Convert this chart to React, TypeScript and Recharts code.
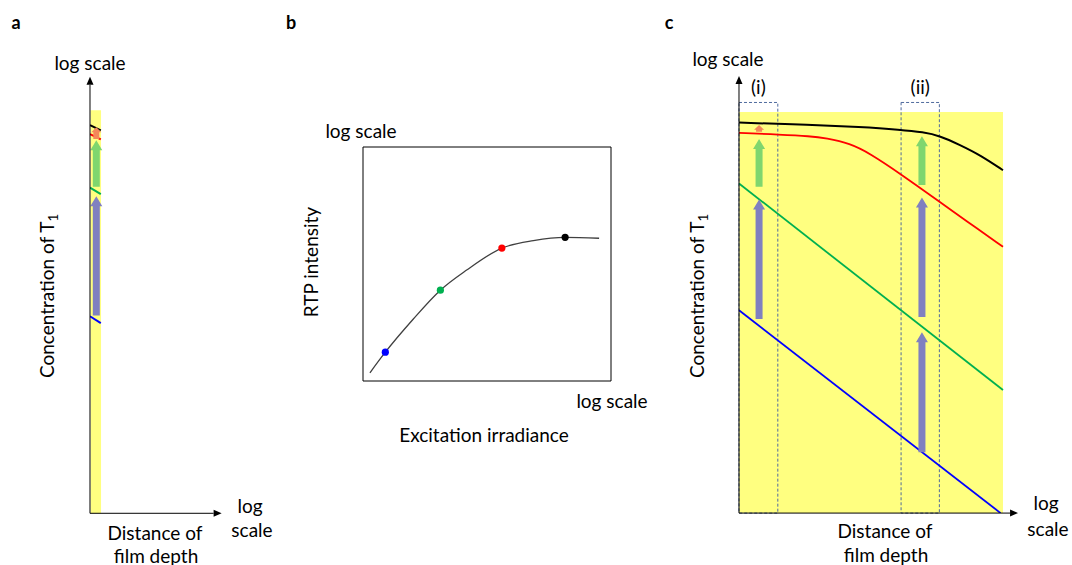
import React from 'react';
import { ComposedChart, Line, Scatter, Cell, XAxis, YAxis, ReferenceArea, ReferenceLine } from 'recharts';

// ---- panel a : the film surface only (log depth close to zero) ----
const depthA = [0, 9];
const blackA = [96.3, 95.0];
const redA = [94.1, 92.8];
const greenA = [80.8, 79.2];
const blueA = [48.9, 47.2];
const arrowKindA = ['b2g', 'g2r', 'r2k'];
const arrowXA = [5.25, 5.25, 5.25];
const arrowFromA = [49.1, 81.0, 92.9];
const arrowToA = [78.7, 92.6, 95.8];

// ---- panel b : RTP intensity vs excitation irradiance ----
const irradianceB = [2.8, 9.0, 20.3, 31.2, 41.8, 56.0, 68.7, 81.5, 95.2];
const intensityB = [3.5, 12.3, 26.5, 38.8, 47.4, 56.8, 60.0, 61.4, 61.0];
const dotIrradiance = [9.0, 31.2, 56.0, 81.5];
const dotIntensity = [12.3, 38.8, 56.8, 61.4];
const dotKind = ['blue', 'green', 'red', 'black'];

// ---- panel c : T1 concentration vs film depth ----
const depthBlackC = [0, 26.9, 45.8, 61.4, 69.7, 76.1, 83.7, 91.3, 100];
const blackC = [97.4, 96.8, 96.3, 95.6, 95.0, 94.1, 91.8, 89.3, 85.5];
const depthRedC = [0, 15.5, 26.9, 33.0, 42.0, 49.6, 61.4, 76.1, 86.0, 100];
const redC = [94.8, 94.4, 94.0, 93.5, 92.2, 89.7, 84.5, 77.6, 72.9, 66.4];
const depthGreenC = [0, 100];
const greenC = [82.2, 30.7];
const depthBlueC = [0, 99.1];
const blueC = [50.6, 0];
const arrowKindC = ['b2g', 'g2r', 'r2k', 'b2g', 'b2g', 'g2r'];
const arrowXC = [7.6, 7.6, 7.6, 69.3, 69.3, 69.3];
const arrowFromC = [48.4, 81.4, 95.1, 15.2, 48.9, 81.8];
const arrowToC = [78.2, 93.3, 96.8, 45.1, 78.7, 94.0];
const regionLabels = ['(i)', '(ii)'];
const regionStart = [0, 61.4];
const regionEnd = [14.7, 75.9];
const regionTop = 102.4;

const FONT = 'Lato, "Open Sans", sans-serif';
const LINE_COLORS: Record<string, string> = { black: '#000000', red: '#ff0000', green: '#00b050', blue: '#0000ff' };
const ARROW_COLORS: Record<string, string> = { b2g: '#8080c0', g2r: '#7fd66e', r2k: '#f4875a' };

const pts = (xs: number[], ys: number[]) => xs.map((x, i) => ({ x, y: ys[i] }));

const BlockArrow = ({ x1, y1, x2, y2, fill, shaft, head, headLen }: any) => {
  const dx = x2 - x1;
  const dy = y2 - y1;
  const len = Math.hypot(dx, dy) || 1;
  const ux = dx / len;
  const uy = dy / len;
  const nx = -uy;
  const ny = ux;
  const hl = Math.min(headLen, len * 0.7);
  const bx = x2 - ux * hl;
  const by = y2 - uy * hl;
  const p = [
    [x1 + (nx * shaft) / 2, y1 + (ny * shaft) / 2],
    [bx + (nx * shaft) / 2, by + (ny * shaft) / 2],
    [bx + (nx * head) / 2, by + (ny * head) / 2],
    [x2, y2],
    [bx - (nx * head) / 2, by - (ny * head) / 2],
    [bx - (nx * shaft) / 2, by - (ny * shaft) / 2],
    [x1 - (nx * shaft) / 2, y1 - (ny * shaft) / 2],
  ];
  return <polygon points={p.map((q) => q.join(',')).join(' ')} fill={fill} />;
};

const AxisArrow = ({ x1, y1, x2, y2 }: any) => {
  const dx = x2 - x1;
  const dy = y2 - y1;
  const len = Math.hypot(dx, dy) || 1;
  const ux = dx / len;
  const uy = dy / len;
  const hl = 8;
  const hw = 3.5;
  const bx = x2 - ux * hl;
  const by = y2 - uy * hl;
  return (
    <g>
      <line x1={x1} y1={y1} x2={bx} y2={by} stroke="#000" strokeWidth={1} />
      <polygon
        points={`${x2},${y2} ${bx - uy * hw},${by + ux * hw} ${bx + uy * hw},${by - ux * hw}`}
        fill="#000"
      />
    </g>
  );
};

const Txt = ({ x, y, children, size = 19, bold = false, rotate = false }: any) => (
  <div
    style={{
      position: 'absolute',
      left: x,
      top: y,
      transform: `translate(-50%, -50%)${rotate ? ' rotate(-90deg)' : ''}`,
      fontFamily: FONT,
      fontSize: size,
      fontWeight: bold ? 700 : 400,
      lineHeight: 1,
      whiteSpace: 'nowrap',
      color: '#000',
    }}
  >
    {children}
  </div>
);

const M = 10;
const Panel = ({ left, top, w, h, xMax, yMax, children }: any) => (
  <div style={{ position: 'absolute', left: left - M, top: top - M }}>
    <ComposedChart width={w + 2 * M} height={h + 2 * M} margin={{ top: M, right: M, bottom: M, left: M }}>
      <XAxis type="number" dataKey="x" domain={[0, xMax]} hide allowDataOverflow />
      <YAxis type="number" domain={[0, yMax]} hide allowDataOverflow />
      {children}
    </ComposedChart>
  </div>
);

const profile = (key: string, xs: number[], ys: number[], type: any = 'linear', width = 1.8) => (
  <Line
    key={key}
    data={pts(xs, ys)}
    dataKey="y"
    type={type}
    stroke={LINE_COLORS[key]}
    strokeWidth={width}
    dot={false}
    activeDot={false}
    isAnimationActive={false}
  />
);

const arrows = (prefix: string, kinds: string[], xs: number[], from: number[], to: number[]) =>
  kinds.map((k, i) => (
    <ReferenceLine
      key={`${prefix}${i}`}
      segment={[{ x: xs[i], y: from[i] }, { x: xs[i], y: to[i] }]}
      shape={(p: any) =>
        k === 'r2k' ? (
          <BlockArrow {...p} fill={ARROW_COLORS[k]} shaft={6} head={10} headLen={5} />
        ) : (
          <BlockArrow {...p} fill={ARROW_COLORS[k]} shaft={7} head={12} headLen={10} />
        )
      }
    />
  ));

const T1 = () => (
  <>
    Concentration of T<sub style={{ fontSize: '0.7em', verticalAlign: '-0.3em' }}>1</sub>
  </>
);

export default function App() {
  return (
    <div style={{ position: 'absolute', left: 0, top: 0, width: 1072, height: 565, background: '#fff', overflow: 'hidden' }}>
      {/* panel a */}
      <Panel left={90} top={69.7} w={134.4} h={443.3} xMax={112} yMax={110}>
        <ReferenceArea x1={0.5} x2={9.2} y1={0} y2={100} fill="#ffff80" fillOpacity={1} stroke="none" />
        {profile('black', depthA, blackA, 'linear', 2)}
        {profile('red', depthA, redA, 'linear', 2)}
        {profile('green', depthA, greenA, 'linear', 2)}
        {profile('blue', depthA, blueA, 'linear', 2)}
        {arrows('a', arrowKindA, arrowXA, arrowFromA, arrowToA)}
        <ReferenceLine segment={[{ x: 0, y: 0 }, { x: 0, y: 108.3 }]} shape={(p: any) => <AxisArrow {...p} />} />
        <ReferenceLine segment={[{ x: 0, y: 0 }, { x: 109.7, y: 0 }]} shape={(p: any) => <AxisArrow {...p} />} />
      </Panel>

      {/* panel b */}
      <Panel left={363} top={147} w={248} h={234} xMax={100} yMax={100}>
        <ReferenceArea x1={0} x2={100} y1={0} y2={100} fill="none" stroke="#000" strokeWidth={1} />
        <Line
          data={pts(irradianceB, intensityB)}
          dataKey="y"
          type="monotone"
          stroke="#404040"
          strokeWidth={1.3}
          dot={false}
          activeDot={false}
          isAnimationActive={false}
        />
        <Scatter
          data={pts(dotIrradiance, dotIntensity)}
          dataKey="y"
          isAnimationActive={false}
          shape={(p: any) => <circle cx={p.cx} cy={p.cy} r={3.6} fill={p.fill} />}
        >
          {dotKind.map((k) => (
            <Cell key={k} fill={LINE_COLORS[k]} />
          ))}
        </Scatter>
      </Panel>

      {/* panel c */}
      <Panel left={739} top={71.9} w={290.4} h={441.1} xMax={110} yMax={110}>
        <ReferenceArea x1={0} x2={100} y1={0} y2={100} fill="#ffff80" fillOpacity={1} stroke="none" />
        {profile('black', depthBlackC, blackC, 'basis', 2)}
        {profile('red', depthRedC, redC, 'basis', 1.8)}
        {profile('green', depthGreenC, greenC)}
        {profile('blue', depthBlueC, blueC)}
        {regionLabels.map((lab, i) => (
          <ReferenceArea
            key={lab}
            x1={regionStart[i]}
            x2={regionEnd[i]}
            y1={0}
            y2={regionTop}
            fill="none"
            stroke="#4f6a9e"
            strokeWidth={1}
            strokeDasharray="3 2"
            label={{ value: lab, position: 'top', offset: 8, fontSize: 19, fontFamily: FONT, fill: '#000' }}
          />
        ))}
        {arrows('c', arrowKindC, arrowXC, arrowFromC, arrowToC)}
        <ReferenceLine segment={[{ x: 0, y: 0 }, { x: 0, y: 109 }]} shape={(p: any) => <AxisArrow {...p} />} />
        <ReferenceLine segment={[{ x: 0, y: 0 }, { x: 105.7, y: 0 }]} shape={(p: any) => <AxisArrow {...p} />} />
      </Panel>

      {/* texts */}
      <Txt x={16} y={22} size={18} bold>a</Txt>
      <Txt x={291} y={22} size={18} bold>b</Txt>
      <Txt x={669} y={22} size={18} bold>c</Txt>

      <Txt x={90} y={62}>log scale</Txt>
      <Txt x={49} y={296} rotate><T1 /></Txt>
      <Txt x={250} y={505}>log</Txt>
      <Txt x={252} y={529}>scale</Txt>
      <Txt x={155} y={532}>Distance of</Txt>
      <Txt x={156} y={555}>film depth</Txt>

      <Txt x={361} y={130}>log scale</Txt>
      <Txt x={612} y={400}>log scale</Txt>
      <Txt x={484} y={434}>Excitation irradiance</Txt>
      <Txt x={310} y={262} rotate>RTP intensity</Txt>

      <Txt x={728} y={58}>log scale</Txt>
      <Txt x={699} y={296} rotate><T1 /></Txt>
      <Txt x={1046} y={502}>log</Txt>
      <Txt x={1048} y={528}>scale</Txt>
      <Txt x={885} y={530}>Distance of</Txt>
      <Txt x={886} y={554}>film depth</Txt>
    </div>
  );
}
